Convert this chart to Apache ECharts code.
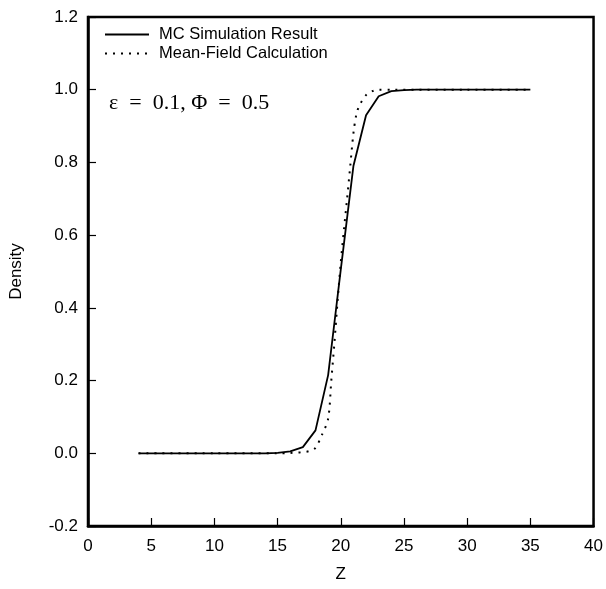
<!DOCTYPE html>
<html>
<head>
<meta charset="utf-8">
<script src="https://cdn.jsdelivr.net/npm/echarts@6/dist/echarts.min.js"></script>
<style>
  html, body { margin: 0; padding: 0; background: #fff; }
  #chart { width: 606px; height: 589px; }
</style>
</head>
<body>
<div id="chart"></div>
<script>
// MC simulation result (solid)
const mcZ = [4, 5, 6, 7, 8, 9, 10, 11, 12, 13, 14, 15, 16, 17, 18, 19, 20, 21, 22, 23, 24, 25, 26, 27, 28, 29, 30, 31, 32, 33, 34, 35];
const mcDensity = [0, 0, 0, 0, 0, 0, 0, 0, 0, 0, 0, 0.001, 0.005, 0.017, 0.063, 0.215, 0.505, 0.79, 0.93, 0.982, 0.996, 0.999, 1, 1, 1, 1, 1, 1, 1, 1, 1, 1];

// mean-field calculation (dotted)
const mfZ = [4, 10, 15, 16, 16.5, 17, 17.5, 18, 18.5, 19, 19.25, 19.5, 19.75, 20, 20.25, 20.5, 20.75, 21, 21.25, 21.5, 22, 22.5, 23, 24, 30, 35];
const mfDensity = [0, 0, 0, 0.001, 0.002, 0.003, 0.006, 0.015, 0.05, 0.095, 0.2, 0.305, 0.42, 0.525, 0.615, 0.7, 0.79, 0.88, 0.935, 0.958, 0.985, 0.996, 1, 1, 1, 1];

const seriesNames = ["MC Simulation Result", "Mean-Field Calculation"];
const note = "ε  =  0.1, Φ  =  0.5";

const chart = echarts.init(document.getElementById("chart"), null, { renderer: "canvas" });

const font = "Liberation Sans";

const option = {
  backgroundColor: "#fff",
  animation: false,
  grid: {
    left: 88,
    right: 12,
    top: 17,
    bottom: 63,
    show: true,
    borderColor: "#000",
    borderWidth: 2.5,
  },
  legend: {
    orient: "vertical",
    left: 104,
    top: 26,
    padding: 0,
    itemWidth: 44,
    itemHeight: 14,
    itemGap: 2,
    selectedMode: false,
    itemStyle: { opacity: 0 },
    textStyle: {
      fontFamily: font,
      fontSize: 16.5,
      color: "#000",
      padding: [0, 0, 0, 5],
    },
    data: seriesNames,
  },
  graphic: [
    {
      type: "text",
      left: 109,
      top: 92,
      style: {
        text: note,
        font: '22px "Liberation Serif"',
        fill: "#000",
      },
    },
  ],
  xAxis: {
    type: "value",
    min: 0,
    max: 40,
    interval: 5,
    name: "Z",
    nameLocation: "middle",
    nameGap: 40,
    nameTextStyle: { fontFamily: font, fontSize: 17, color: "#000" },
    axisLine: { show: true, onZero: false, lineStyle: { color: "#000", width: 2.5 } },
    axisTick: { show: true, inside: true, length: 8, lineStyle: { color: "#000", width: 1.2 } },
    axisLabel: { fontFamily: font, fontSize: 17, color: "#000", margin: 12 },
    splitLine: { show: false },
  },
  yAxis: {
    type: "value",
    min: -0.2,
    max: 1.2,
    interval: 0.2,
    name: "Density",
    nameLocation: "middle",
    nameGap: 63,
    nameTextStyle: { fontFamily: font, fontSize: 17, color: "#000" },
    axisLine: { show: true, onZero: false, lineStyle: { color: "#000", width: 2.5 } },
    axisTick: { show: true, inside: true, length: 8, lineStyle: { color: "#000", width: 1.2 } },
    axisLabel: {
      fontFamily: font,
      fontSize: 17,
      color: "#000",
      margin: 10,
      formatter: (v) => (Math.abs(v) < 1e-9 ? "0.0" : v.toFixed(1)),
    },
    splitLine: { show: false },
  },
  series: [
    {
      name: seriesNames[0],
      type: "line",
      symbol: "none",
      lineStyle: { color: "#000", width: 1.8, type: "solid" },
      itemStyle: { color: "#000" },
      data: mcZ.map((z, i) => [z, mcDensity[i]]),
      z: 3,
    },
    {
      name: seriesNames[1],
      type: "line",
      symbol: "none",
      smooth: 0.3,
      lineStyle: { color: "#000", width: 2, type: [2, 6] },
      itemStyle: { color: "#000" },
      data: mfZ.map((z, i) => [z, mfDensity[i]]),
      z: 2,
    },
  ],
};

chart.setOption(option);
</script>
</body>
</html>
